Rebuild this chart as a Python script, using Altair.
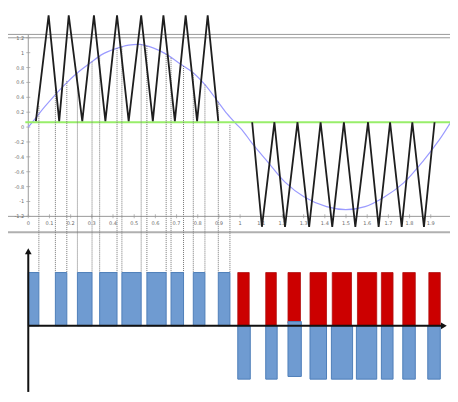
import altair as alt
import pandas as pd

# ---------------- data ----------------
# upper panel: carrier (triangle) for the positive half
TRI_POS_X = [0.036, 0.096, 0.146, 0.191, 0.255, 0.310, 0.364, 0.419, 0.474,
             0.533, 0.588, 0.638, 0.692, 0.743, 0.797, 0.847, 0.897]
TRI_POS_V = [0.08, 1.5, 0.08, 1.5, 0.08, 1.5, 0.08, 1.5, 0.08,
             1.5, 0.08, 1.5, 0.08, 1.5, 0.08, 1.5, 0.08]
# carrier for the negative half
TRI_NEG_X = [1.057, 1.103, 1.162, 1.212, 1.271, 1.326, 1.380, 1.435, 1.490,
             1.544, 1.604, 1.654, 1.708, 1.763, 1.813, 1.868, 1.918]
TRI_NEG_V = [0.065, -1.34, 0.065, -1.34, 0.065, -1.34, 0.065, -1.34, 0.065,
             -1.34, 0.065, -1.34, 0.065, -1.34, 0.065, -1.34, 0.065]
# reference sine
SINE_X = [0.0, 0.032, 0.077, 0.169, 0.228, 0.292, 0.351, 0.410, 0.474, 0.528,
          0.592, 0.651, 0.711, 0.774, 0.834, 0.893, 0.938, 0.979, 1.010,
          1.057, 1.134, 1.212, 1.303, 1.408, 1.499, 1.590, 1.681, 1.772,
          1.863, 1.941, 1.991]
SINE_V = [0.0, 0.11, 0.27, 0.56, 0.72, 0.86, 0.98, 1.05, 1.10, 1.11,
          1.06, 0.98, 0.86, 0.74, 0.57, 0.35, 0.18, 0.05, -0.04,
          -0.22, -0.48, -0.74, -0.94, -1.07, -1.11, -1.07, -0.94, -0.75,
          -0.46, -0.17, 0.05]
GREEN_X = [-0.014, 1.991]
GREEN_V = [0.065, 0.065]
# projection (dotted) lines: x and start level
DROP_X = [0.050, 0.128, 0.182, 0.232, 0.301, 0.337, 0.419, 0.442, 0.533,
          0.560, 0.651, 0.674, 0.733, 0.779, 0.834, 0.897, 0.952]
DROP_V = [0.28, 0.50, 0.62, 0.72, 0.88, 0.95, 1.06, 1.08, 1.11,
          1.09, 0.98, 0.93, 0.82, 0.73, 0.57, 0.34, 0.03]
DROP_END = -1.96
FRAME_LEVELS = [1.245, 1.2, -1.2]
LOWER_FRAME = -1.413
Y_TICKS = [1.2, 1.0, 0.8, 0.6, 0.4, 0.2, 0.0, -0.2, -0.4, -0.6, -0.8, -1.0, -1.2]
Y_LABELS = ["1.2", "1", "0.8", "0.6", "0.4", "0.2", "0", "-0.2", "-0.4",
            "-0.6", "-0.8", "-1", "-1.2"]
X_TICKS = [0.0, 0.1, 0.2, 0.3, 0.4, 0.5, 0.6, 0.7, 0.8, 0.9,
           1.0, 1.1, 1.2, 1.3, 1.4, 1.5, 1.6, 1.7, 1.8, 1.9]
X_LABELS = ["0", "0.1", "0.2", "0.3", "0.4", "0.5", "0.6", "0.7", "0.8", "0.9",
            "1", "1.1", "1.2", "1.3", "1.4", "1.5", "1.6", "1.7", "1.8", "1.9"]

# lower panel: pulses
POS_BLUE_START = [0.0, 0.128, 0.232, 0.337, 0.442, 0.560, 0.674, 0.779, 0.897]
POS_BLUE_END = [0.050, 0.182, 0.301, 0.419, 0.533, 0.651, 0.733, 0.834, 0.952]
RED_START = [0.989, 1.121, 1.226, 1.330, 1.435, 1.554, 1.667, 1.768, 1.891]
RED_END = [1.043, 1.171, 1.285, 1.408, 1.526, 1.645, 1.722, 1.827, 1.945]
RED_BOTTOM = [0, 0, 0.05, 0, 0, 0, 0, 0, 0]
NEG_START = [0.989, 1.121, 1.226, 1.330, 1.431, 1.549, 1.667, 1.768, 1.886]
NEG_END = [1.048, 1.175, 1.289, 1.408, 1.531, 1.645, 1.722, 1.827, 1.945]
NEG_TOP = [0, 0, 0.08, 0, 0, 0, 0, 0, 0]
NEG_BOTTOM = [-1, -1, -0.95, -1, -1, -1, -1, -1, -1]

# ---------------- scales ----------------
W, H = 442, 386
XS = alt.Scale(domain=[-0.0957, 1.9909], nice=False, zero=False)
YT = alt.Scale(domain=[-3.587, 1.6], nice=False, zero=False)
YB = alt.Scale(domain=[-1.279, 5.964], nice=False, zero=False)


def xq(field):
    return alt.X(field, type="quantitative", scale=XS, axis=None)


def ytq(field):
    return alt.Y(field, type="quantitative", scale=YT, axis=None)


def ybq(field):
    return alt.Y(field, type="quantitative", scale=YB, axis=None)


AXIS_GREY = "#9a9a9a"
LABEL_GREY = "#6a6a6a"

# ---------------- upper panel ----------------
frame_df = pd.DataFrame({"v": FRAME_LEVELS})
frame = alt.Chart(frame_df).mark_rule(color=AXIS_GREY, strokeWidth=1).encode(
    y=ytq("v"))
lower_frame = alt.Chart(pd.DataFrame({"v": [LOWER_FRAME]})).mark_rule(
    color="#b0b0b0", strokeWidth=2).encode(y=ytq("v"))

yline_df = pd.DataFrame({"x": [0.0], "v": [FRAME_LEVELS[0]], "v2": [Y_TICKS[-1]]})
yaxis_line = alt.Chart(yline_df).mark_rule(color=AXIS_GREY, strokeWidth=1).encode(
    x=xq("x"), y=ytq("v"), y2="v2")

ytick_df = pd.DataFrame({"x": [0.0] * len(Y_TICKS), "v": Y_TICKS, "t": Y_LABELS})
ytick_marks = alt.Chart(ytick_df).mark_tick(
    orient="horizontal", size=4, thickness=1, color=AXIS_GREY).encode(
    x=xq("x"), y=ytq("v"))
ytick_text = alt.Chart(ytick_df).mark_text(
    align="right", baseline="middle", dx=-4, fontSize=5, color=LABEL_GREY,
    font="DejaVu Sans").encode(x=xq("x"), y=ytq("v"), text="t:N")

xtick_df = pd.DataFrame({"x": X_TICKS, "v": [Y_TICKS[-1]] * len(X_TICKS),
                         "t": X_LABELS})
xtick_marks = alt.Chart(xtick_df).mark_tick(
    orient="vertical", size=4, thickness=1, color=AXIS_GREY).encode(
    x=xq("x"), y=ytq("v"))
xtick_text = alt.Chart(xtick_df).mark_text(
    align="center", baseline="top", dy=5, fontSize=5, color=LABEL_GREY,
    font="DejaVu Sans").encode(x=xq("x"), y=ytq("v"), text="t:N")

sine_df = pd.DataFrame({"x": SINE_X, "v": SINE_V, "i": range(len(SINE_X))})
sine = alt.Chart(sine_df).mark_line(color="#9b9bff", strokeWidth=1.2,
                                    interpolate="catmull-rom").encode(
    x=xq("x"), y=ytq("v"), order="i:Q")

green_df = pd.DataFrame({"x": GREEN_X, "v": GREEN_V})
green = alt.Chart(green_df).mark_line(color="#98ee6a", strokeWidth=2).encode(
    x=xq("x"), y=ytq("v"))

drop_df = pd.DataFrame({"x": DROP_X, "v": DROP_V,
                        "v2": [DROP_END] * len(DROP_X)})
drops = alt.Chart(drop_df).mark_rule(color="#777777", strokeWidth=1,
                                     strokeDash=[1, 1]).encode(
    x=xq("x"), y=ytq("v"), y2="v2")

tri1_df = pd.DataFrame({"x": TRI_POS_X, "v": TRI_POS_V, "i": range(len(TRI_POS_X))})
tri1 = alt.Chart(tri1_df).mark_line(color="#1e1e1e", strokeWidth=1.8).encode(
    x=xq("x"), y=ytq("v"), order="i:Q")
tri2_df = pd.DataFrame({"x": TRI_NEG_X, "v": TRI_NEG_V, "i": range(len(TRI_NEG_X))})
tri2 = alt.Chart(tri2_df).mark_line(color="#1e1e1e", strokeWidth=1.8).encode(
    x=xq("x"), y=ytq("v"), order="i:Q")

upper = alt.layer(frame, lower_frame, yaxis_line, ytick_marks, ytick_text,
                  xtick_marks, xtick_text, sine, green, drops, tri1, tri2)

# ---------------- lower panel ----------------
blue_df = pd.DataFrame({"x": POS_BLUE_START, "x2": POS_BLUE_END,
                        "y": [1] * len(POS_BLUE_START),
                        "y2": [0] * len(POS_BLUE_START)})
blue_pos = alt.Chart(blue_df).mark_rect(color="#6f9bd1", stroke="#4f7fb9",
                                        strokeWidth=1).encode(
    x=xq("x"), x2="x2", y=ybq("y"), y2="y2")

red_df = pd.DataFrame({"x": RED_START, "x2": RED_END,
                       "y": [1] * len(RED_START), "y2": RED_BOTTOM})
red = alt.Chart(red_df).mark_rect(color="#cc0000", stroke="#b01010",
                                  strokeWidth=0.8).encode(
    x=xq("x"), x2="x2", y=ybq("y"), y2="y2")

neg_df = pd.DataFrame({"x": NEG_START, "x2": NEG_END,
                       "y": NEG_TOP, "y2": NEG_BOTTOM})
blue_neg = alt.Chart(neg_df).mark_rect(color="#6f9bd1", stroke="#4f7fb9",
                                       strokeWidth=1).encode(
    x=xq("x"), x2="x2", y=ybq("y"), y2="y2")

haxis_df = pd.DataFrame({"x": [0.0], "x2": [1.962], "y": [0.0]})
haxis = alt.Chart(haxis_df).mark_rule(color="#111111", strokeWidth=2).encode(
    x=xq("x"), x2="x2", y=ybq("y"))
vaxis_df = pd.DataFrame({"x": [0.0], "y": [1.40], "y2": [-1.24]})
vaxis = alt.Chart(vaxis_df).mark_rule(color="#111111", strokeWidth=2).encode(
    x=xq("x"), y=ybq("y"), y2="y2")
harrow = alt.Chart(pd.DataFrame({"x": [1.962], "y": [0.0]})).mark_point(
    shape="triangle-right", filled=True, color="#111111", size=45, opacity=1).encode(
    x=xq("x"), y=ybq("y"))
varrow = alt.Chart(pd.DataFrame({"x": [0.0], "y": [1.40]})).mark_point(
    shape="triangle-up", filled=True, color="#111111", size=45, opacity=1).encode(
    x=xq("x"), y=ybq("y"))

lower = alt.layer(blue_pos, red, blue_neg, haxis, vaxis, harrow, varrow)

chart = alt.layer(upper, lower).resolve_scale(y="independent").properties(
    width=W, height=H,
    autosize=alt.AutoSizeParams(type="none"),
    padding=0,
    background="white",
).configure_view(stroke=None)

chart.save("out.html", embed_options={"renderer": "svg", "actions": False})
